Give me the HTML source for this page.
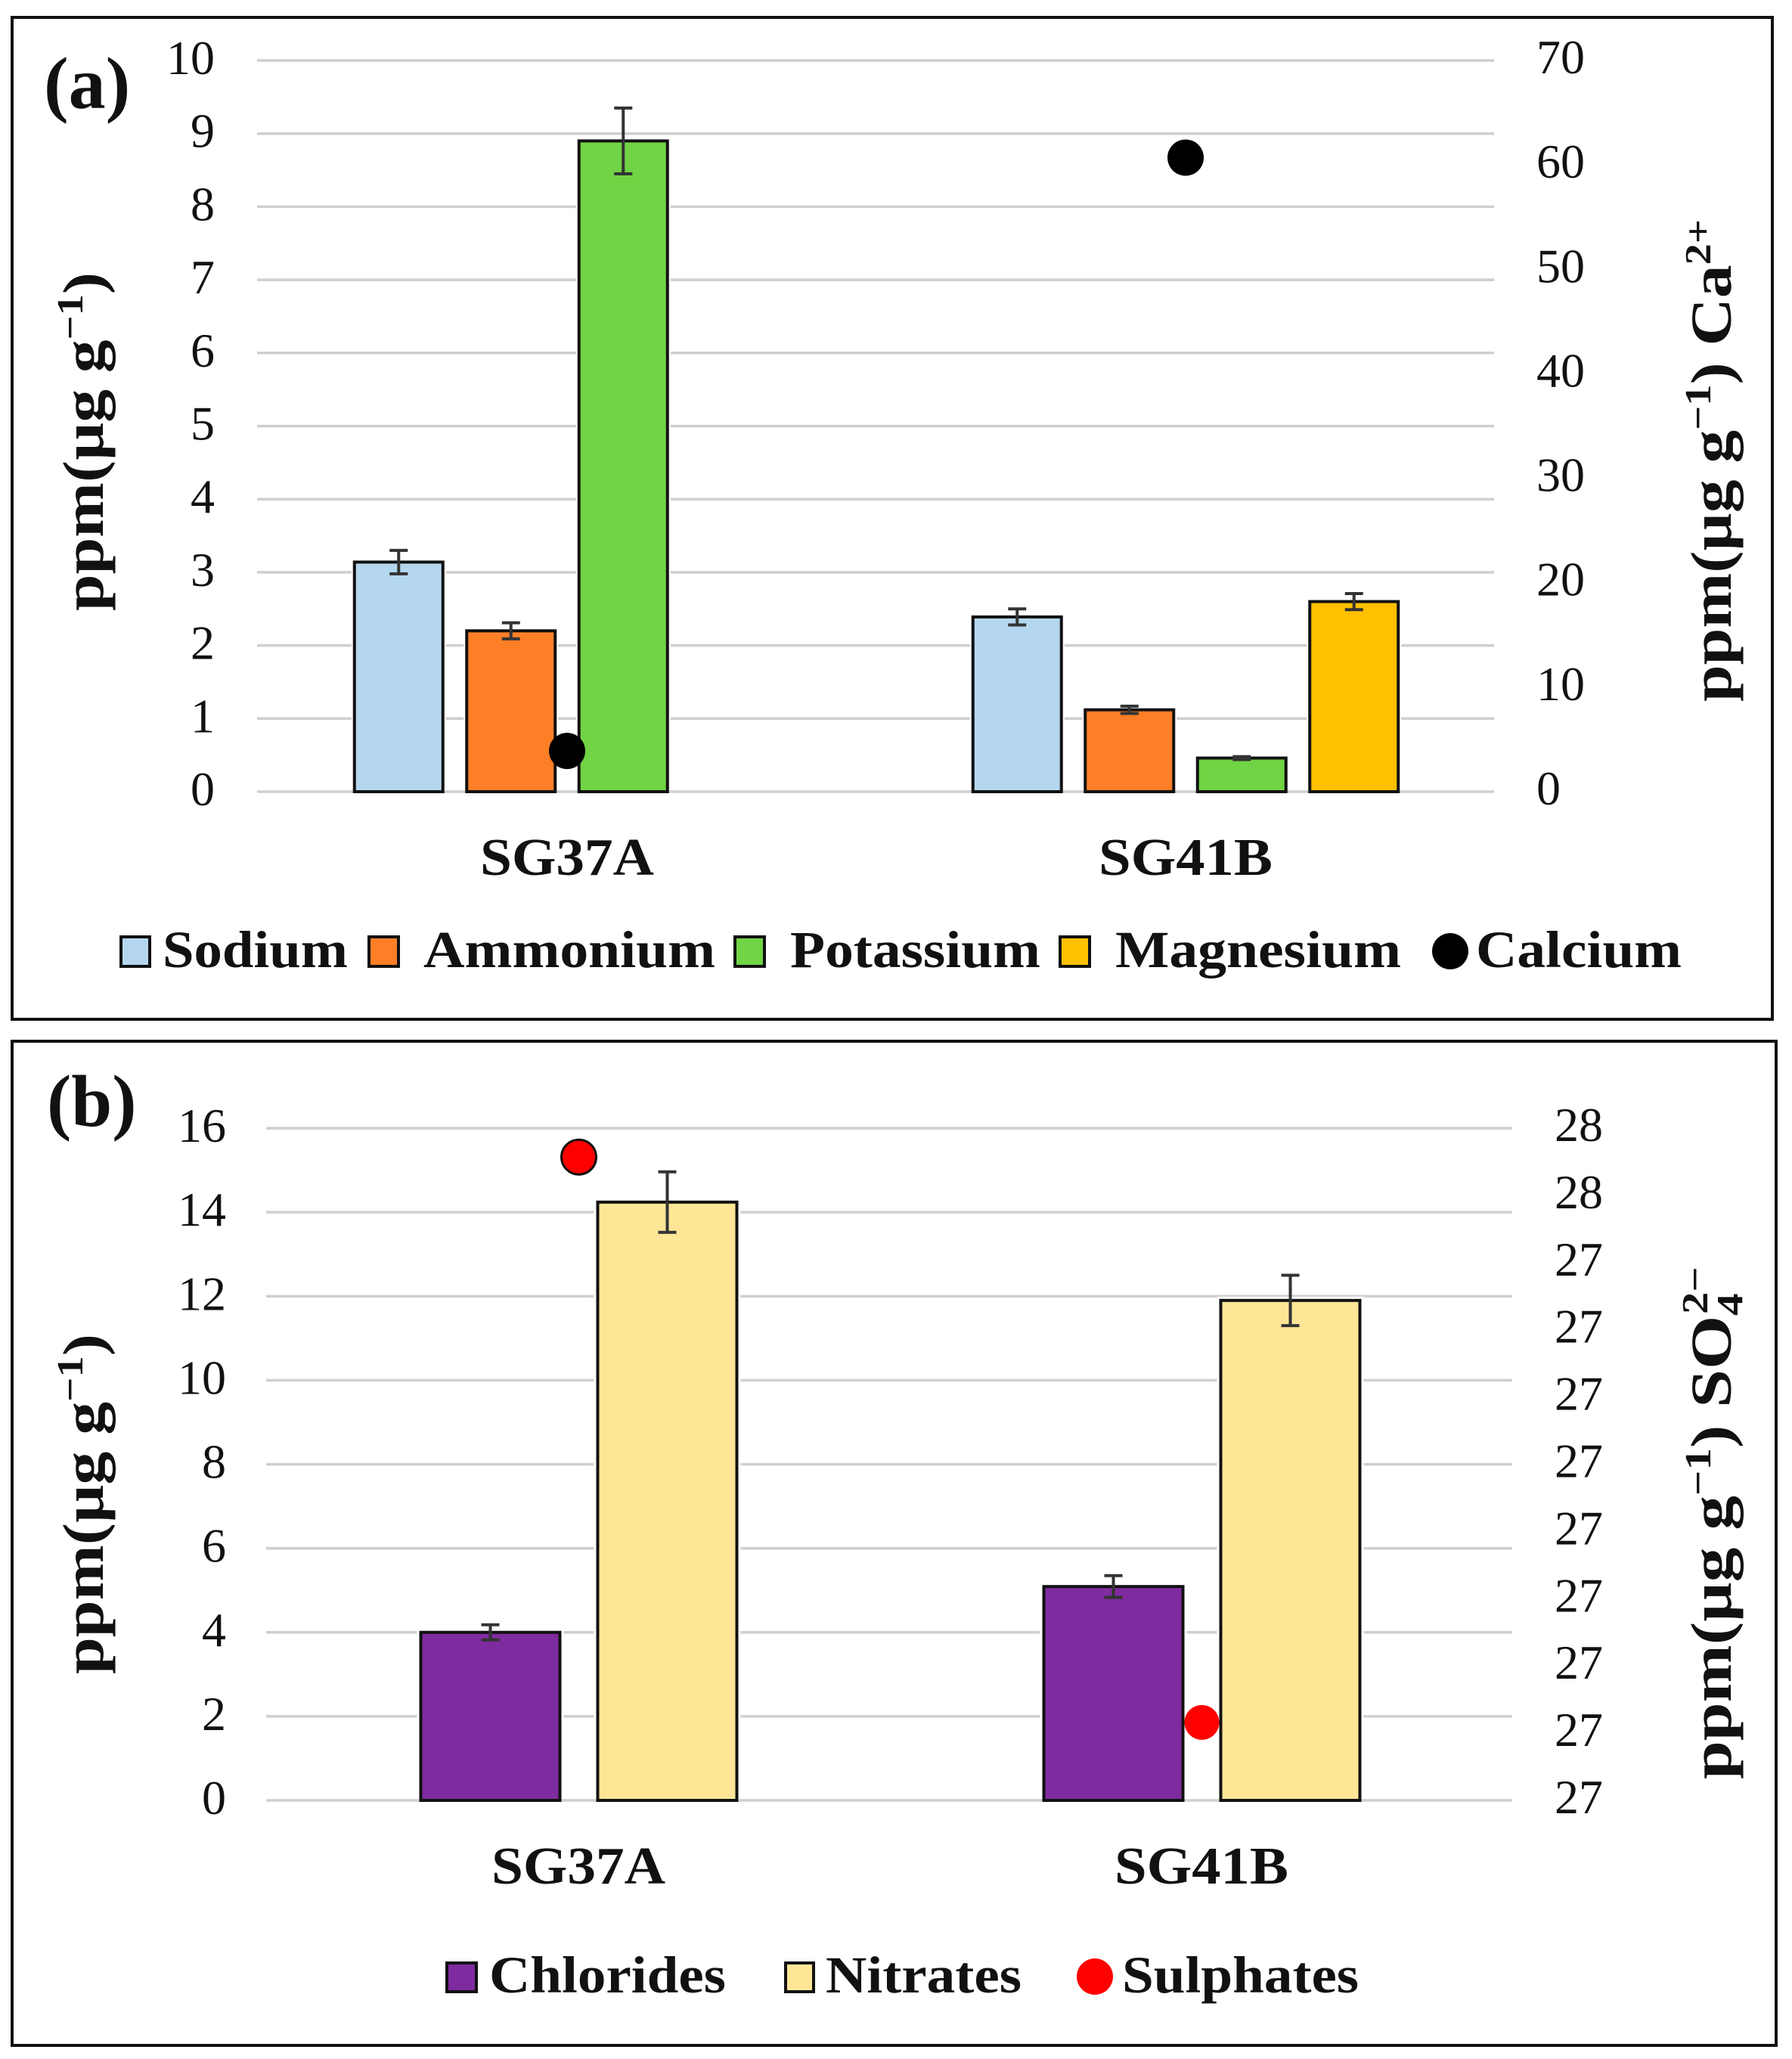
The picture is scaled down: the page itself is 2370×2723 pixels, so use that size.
<!DOCTYPE html>
<html lang="en"><head><meta charset="utf-8"><title>Ion concentrations</title>
<style>
html,body{margin:0;padding:0;background:#fff}
svg{display:block}
text{font-family:"Liberation Serif",serif;fill:#111}
.b{font-weight:bold}
</style></head>
<body>
<svg id="fig" xmlns="http://www.w3.org/2000/svg" width="2370" height="2723" viewBox="0 0 2370 2723">
<rect width="2370" height="2723" fill="#fff"/>
<g><rect x="16" y="23" width="2328" height="1325" fill="#fff" stroke="#111" stroke-width="4"/></g>
<g><rect x="16" y="1377" width="2333" height="1328" fill="#fff" stroke="#111" stroke-width="4"/></g>
<g id="plotA"></g>
<g id="plotB"></g>

<text class="b" x="58" y="143" font-size="98">(a)</text>
<text class="b" x="62" y="1489" font-size="97">(b)</text>

<text class="b" transform="translate(136,808) rotate(-90)" font-size="76" textLength="448" lengthAdjust="spacingAndGlyphs">ppm(µg g<tspan font-size="49" dy="-27">−1</tspan><tspan dy="27">)</tspan></text>
<text class="b" transform="translate(2289,928) rotate(-90)" font-size="76" textLength="638" lengthAdjust="spacingAndGlyphs">ppm(µg g<tspan font-size="49" dy="-27">−1</tspan><tspan dy="27">) Ca</tspan><tspan font-size="49" dy="-27">2+</tspan></text>
<text class="b" transform="translate(136,2214) rotate(-90)" font-size="76" textLength="450" lengthAdjust="spacingAndGlyphs">ppm(µg g<tspan font-size="49" dy="-27">−1</tspan><tspan dy="27">)</tspan></text>
<text class="b" transform="translate(2289,2353) rotate(-90)" font-size="76" textLength="678" lengthAdjust="spacingAndGlyphs">ppm(µg g<tspan font-size="49" dy="-27">−1</tspan><tspan dy="27">) SO</tspan><tspan font-size="49" dy="15">4</tspan><tspan font-size="49" dx="-23" dy="-46">2−</tspan></text>

<g>
<rect x="160" y="1239" width="38" height="39" fill="#B4D7EF" stroke="#111" stroke-width="4"/>
<text class="b" x="215" y="1279" font-size="69" textLength="245" lengthAdjust="spacingAndGlyphs">Sodium</text>
<rect x="488" y="1239" width="39" height="39" fill="#FF7F27" stroke="#111" stroke-width="4"/>
<text class="b" x="560" y="1279" font-size="69" textLength="386" lengthAdjust="spacingAndGlyphs">Ammonium</text>
<rect x="972" y="1239" width="39" height="39" fill="#70D444" stroke="#111" stroke-width="4"/>
<text class="b" x="1045" y="1279" font-size="69" textLength="331" lengthAdjust="spacingAndGlyphs">Potassium</text>
<rect x="1402" y="1239" width="39" height="39" fill="#FFC000" stroke="#111" stroke-width="4"/>
<text class="b" x="1475" y="1279" font-size="69" textLength="378" lengthAdjust="spacingAndGlyphs">Magnesium</text>
<circle cx="1918" cy="1258" r="24" fill="#000"/>
<text class="b" x="1952" y="1279" font-size="69" textLength="272" lengthAdjust="spacingAndGlyphs">Calcium</text>
</g>
<g>
<rect x="591" y="2596" width="39" height="38" fill="#7F2BA0" stroke="#111" stroke-width="4"/>
<text class="b" x="647" y="2635" font-size="69" textLength="313" lengthAdjust="spacingAndGlyphs">Chlorides</text>
<rect x="1039" y="2596" width="37" height="38" fill="#FFE697" stroke="#111" stroke-width="4"/>
<text class="b" x="1092" y="2635" font-size="69" textLength="259" lengthAdjust="spacingAndGlyphs">Nitrates</text>
<circle cx="1448" cy="2614" r="24" fill="#FF0000"/>
<text class="b" x="1484" y="2635" font-size="69" textLength="313" lengthAdjust="spacingAndGlyphs">Sulphates</text>
</g>
</svg>
<script>
// Panel (a) data
const categoriesA = ['SG37A', 'SG41B'];
const sodium = [3.14, 2.39];
const ammonium = [2.2, 1.12];
const potassium = [8.9, 0.46];
const magnesium = [null, 2.6];
const calcium = [3.9, 60.7];
const sodiumErr = [0.16, 0.11];
const ammoniumErr = [0.11, 0.05];
const potassiumErr = [0.45, 0.02];
const magnesiumErr = [null, 0.11];
const leftTicksA = [0, 1, 2, 3, 4, 5, 6, 7, 8, 9, 10];
const rightTicksA = [0, 10, 20, 30, 40, 50, 60, 70];

// Panel (b) data
const categoriesB = ['SG37A', 'SG41B'];
const chlorides = [4.0, 5.09];
const nitrates = [14.24, 11.9];
const sulphates = [27.557, 26.716];
const chloridesErr = [0.18, 0.26];
const nitratesErr = [0.72, 0.6];
const leftTicksB = [0, 2, 4, 6, 8, 10, 12, 14, 16];
const rightTicksB = [26.6, 26.7, 26.8, 26.9, 27.0, 27.1, 27.2, 27.3, 27.4, 27.5, 27.6];

const NS = 'http://www.w3.org/2000/svg';
function mk(parent, tag, attrs, txt) {
  const el = document.createElementNS(NS, tag);
  for (const k in attrs) el.setAttribute(k, attrs[k]);
  if (txt !== undefined) el.textContent = txt;
  parent.appendChild(el);
  return el;
}
function scale(d0, d1, r0, r1) { return v => r0 + (v - d0) / (d1 - d0) * (r1 - r0); }

function drawBars(root, key, cats, series, xOf, slot, barW, y, halo) {
  series.forEach((s, si) => {
    s.vals.forEach((v, g) => {
      if (v === null) return;
      const cx = xOf(g) + (si - (series.length - 1) / 2) * slot;
      const h = mk(root, 'rect', { x: cx - barW / 2 - halo, y: y(v) - halo, width: barW + 2 * halo, height: y(0) - y(v) + halo - 2, fill: '#fff' });
      
      
      const r = mk(root, 'rect', { x: cx - barW / 2, y: y(v), width: barW, height: y(0) - y(v), fill: s.color, stroke: '#111', 'stroke-width': 4 });
      
      
    });
  });
  series.forEach((s, si) => {
    s.vals.forEach((v, g) => {
      if (v === null) return;
      const cx = xOf(g) + (si - (series.length - 1) / 2) * slot;
      const top = y(v + s.errs[g]), bot = y(v - s.errs[g]);
      const e = mk(root, 'path', { d: 'M' + (cx - 12) + ' ' + top + 'H' + (cx + 12) + 'M' + cx + ' ' + top + 'V' + bot + 'M' + (cx - 12) + ' ' + bot + 'H' + (cx + 12), fill: 'none', stroke: '#333', 'stroke-width': 4 });
      
      
    });
  });
}

function drawAxis(root, side, ticks, y, x, labelOf) {
  ticks.forEach(t => {
    const lab = mk(root, 'text', { x: x, y: y(t) + (side === 'left' ? 18 : 17), 'font-size': 64, 'text-anchor': side === 'left' ? 'end' : 'start' }, labelOf(t));
    
    
  });
}

// ---- Panel (a)
(function () {
  const root = document.getElementById('plotA');
  const L = 340, R = 1976, y = scale(0, 10, 1047, 80), y2 = scale(0, 70, 1047, 80);
  const groupW = (R - L) / categoriesA.length;
  const xOf = g => L + (g + 0.5) * groupW;
  leftTicksA.forEach(t => {
    const gl = mk(root, 'line', { x1: L, x2: R, y1: y(t), y2: y(t), stroke: '#cfcfcf', 'stroke-width': 3.5 });
    
    
  });
  drawBars(root, 'a', categoriesA, [
    { name: 'sodium', vals: sodium, errs: sodiumErr, color: '#B4D7EF' },
    { name: 'ammonium', vals: ammonium, errs: ammoniumErr, color: '#FF7F27' },
    { name: 'potassium', vals: potassium, errs: potassiumErr, color: '#70D444' },
    { name: 'magnesium', vals: magnesium, errs: magnesiumErr, color: '#FFC000' }
  ], g => xOf(g) + 1, 148.5, 117, y, 4);
  calcium.forEach((v, g) => {
    const c = mk(root, 'circle', { cx: xOf(g) + 1, cy: y2(v), r: 24, fill: '#000' });
    
    
  });
  drawAxis(root, 'left', leftTicksA, y, 284, t => String(t));
  drawAxis(root, 'right', rightTicksA, y2, 2032, t => String(t));
  categoriesA.forEach((c, g) => {
    const t = mk(root, 'text', { x: xOf(g) + 1, y: 1157, 'font-size': 70, 'font-weight': 'bold', 'text-anchor': 'middle', textLength: 230, lengthAdjust: 'spacingAndGlyphs' }, c);
    
    
  });
})();

// ---- Panel (b)
(function () {
  const root = document.getElementById('plotB');
  const L = 352, R = 2000, y = scale(0, 16, 2381, 1492), y2 = scale(26.6, 27.6, 2381, 1492);
  const groupW = (R - L) / categoriesB.length;
  const xOf = g => L + (g + 0.5) * groupW;
  leftTicksB.forEach(t => {
    const gl = mk(root, 'line', { x1: L, x2: R, y1: y(t), y2: y(t), stroke: '#cfcfcf', 'stroke-width': 3.5 });
    
    
  });
  drawBars(root, 'b', categoriesB, [
    { name: 'chlorides', vals: chlorides, errs: chloridesErr, color: '#7F2BA0' },
    { name: 'nitrates', vals: nitrates, errs: nitratesErr, color: '#FFE697' }
  ], g => xOf(g) + 1.5, 234, 184, y, 5);
  sulphates.forEach((v, g) => {
    const c = mk(root, 'circle', { cx: xOf(g) + 1.5, cy: y2(v), r: 23, fill: '#FF0000', stroke: g === 0 ? '#111' : 'none', 'stroke-width': 3 });
    
    
  });
  drawAxis(root, 'left', leftTicksB, y, 299, t => String(t));
  drawAxis(root, 'right', rightTicksB, y2, 2056, t => String(Math.round(t)));
  categoriesB.forEach((c, g) => {
    const t = mk(root, 'text', { x: xOf(g) + 1, y: 2491, 'font-size': 70, 'font-weight': 'bold', 'text-anchor': 'middle', textLength: 230, lengthAdjust: 'spacingAndGlyphs' }, c);
    
    
  });
})();
</script>
</body></html>
